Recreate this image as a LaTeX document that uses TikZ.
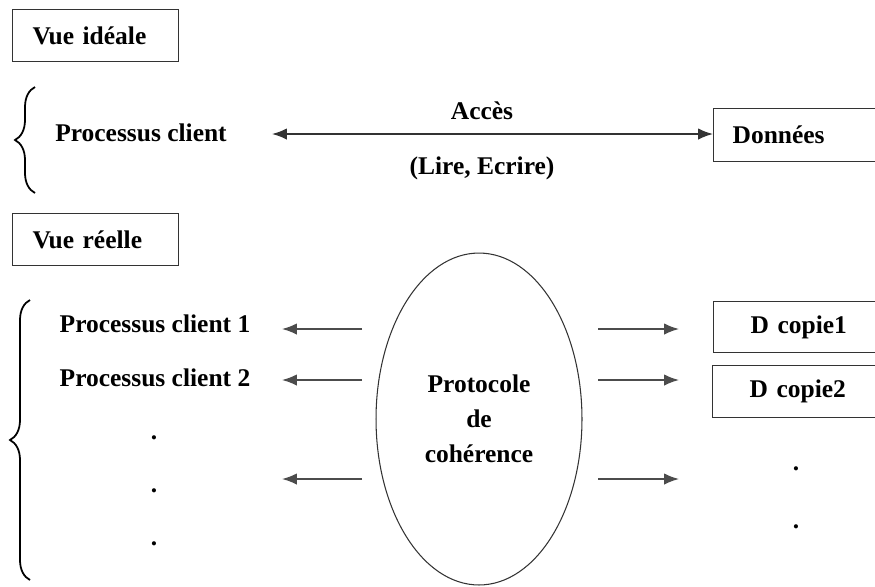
\documentclass[tikz,border=0pt]{standalone}
\usepackage{fontspec}
\setmainfont{Liberation Serif}
\usetikzlibrary{arrows.meta, shapes.geometric, decorations.pathreplacing}

\tikzset{
	labelbox/.style = {draw = black!80, line width = .75pt, anchor = north west, align = left,
		text width = 2.52cm, inner xsep = .4cm, inner ysep = 0pt, minimum height = 1.04cm},
	copybox/.style = {labelbox, text width = 3cm, inner xsep = .74cm},
	txt/.style = {anchor = base, inner sep = 1pt},
	larrow/.style = {-{Latex[length = 8.5pt, width = 6.5pt]}, line width = .9pt, black!70},
	dblarrow/.style = {{Latex[length = 8.5pt, width = 6.5pt]}-{Latex[length = 8.5pt, width = 6.5pt]}, line width = .9pt, black!80},
	brc/.style = {decorate, decoration = {brace, amplitude = .4cm}, line width = 1pt}
}

\begin{document}
\begin{tikzpicture}[x = .02cm, y = -.02cm, font = \fontsize{14.5}{20}\selectfont\bfseries]
	\useasboundingbox (0, 0) rectangle (875, 586);

	% vue ideale
	\node [labelbox] (ideal) at (12, 9) {Vue id\'eale};
	\draw [brc] (35, 193) -- (35, 87);
	\node [txt] (pc) at (141, 141.5) {Processus client};
	\node [labelbox, text width = 4cm, inner xsep = .38cm, minimum height = 1.06cm] (don) at (713, 108) {Donn\'ees};
	\coordinate (accl) at (272, 134);
	\draw [dblarrow] (accl) -- (accl -| don.west);
	\node [txt] (acc) at (482, 119) {Acc\`es};
	\node [txt] (le) at (482, 174) {(Lire, Ecrire)};

	% vue reelle
	\node [labelbox] (reel) at (12, 213) {Vue r\'eelle};
	\draw [brc] (30, 580) -- (30, 300);
	\node [txt] (pc1) at (155, 332) {Processus client 1};
	\node [txt] (pc2) at (155, 386.5) {Processus client 2};
	\node [txt] (ld1) at (154, 439) {.};
	\node [txt] (ld2) at (154, 492) {.};
	\node [txt] (ld3) at (154, 545) {.};

	% protocole
	\node [ellipse, draw = black!80, line width = .6pt, minimum width = 4.12cm, minimum height = 6.64cm,
		inner sep = 0pt, align = center] (proto) at (479, 419) {Protocole\\de\\coh\'erence};

	% lines
	\coordinate (ls1) at (362, 329); \coordinate (le1) at (282, 329);
	\coordinate (ls2) at (362, 380); \coordinate (le2) at (282, 380);
	\coordinate (ls3) at (362, 479); \coordinate (le3) at (282, 479);
	\draw [larrow] (ls1) -- (le1);
	\draw [larrow] (ls2) -- (le2);
	\draw [larrow] (ls3) -- (le3);

	\coordinate (rs1) at (598, 329); \coordinate (re1) at (679, 329);
	\coordinate (rs2) at (598, 380); \coordinate (re2) at (679, 380);
	\coordinate (rs3) at (598, 479); \coordinate (re3) at (679, 479);
	\draw [larrow] (rs1) -- (re1);
	\draw [larrow] (rs2) -- (re2);
	\draw [larrow] (rs3) -- (re3);

	% copies
	\node [copybox, minimum height = 1.02cm] (dc1) at (713, 301) {D copie1};
	\node [copybox] (dc2) at (712, 365) {D copie2};
	\node [txt] (rd1) at (796, 470) {.};
	\node [txt] (rd2) at (796, 528) {.};
\end{tikzpicture}
\end{document}
